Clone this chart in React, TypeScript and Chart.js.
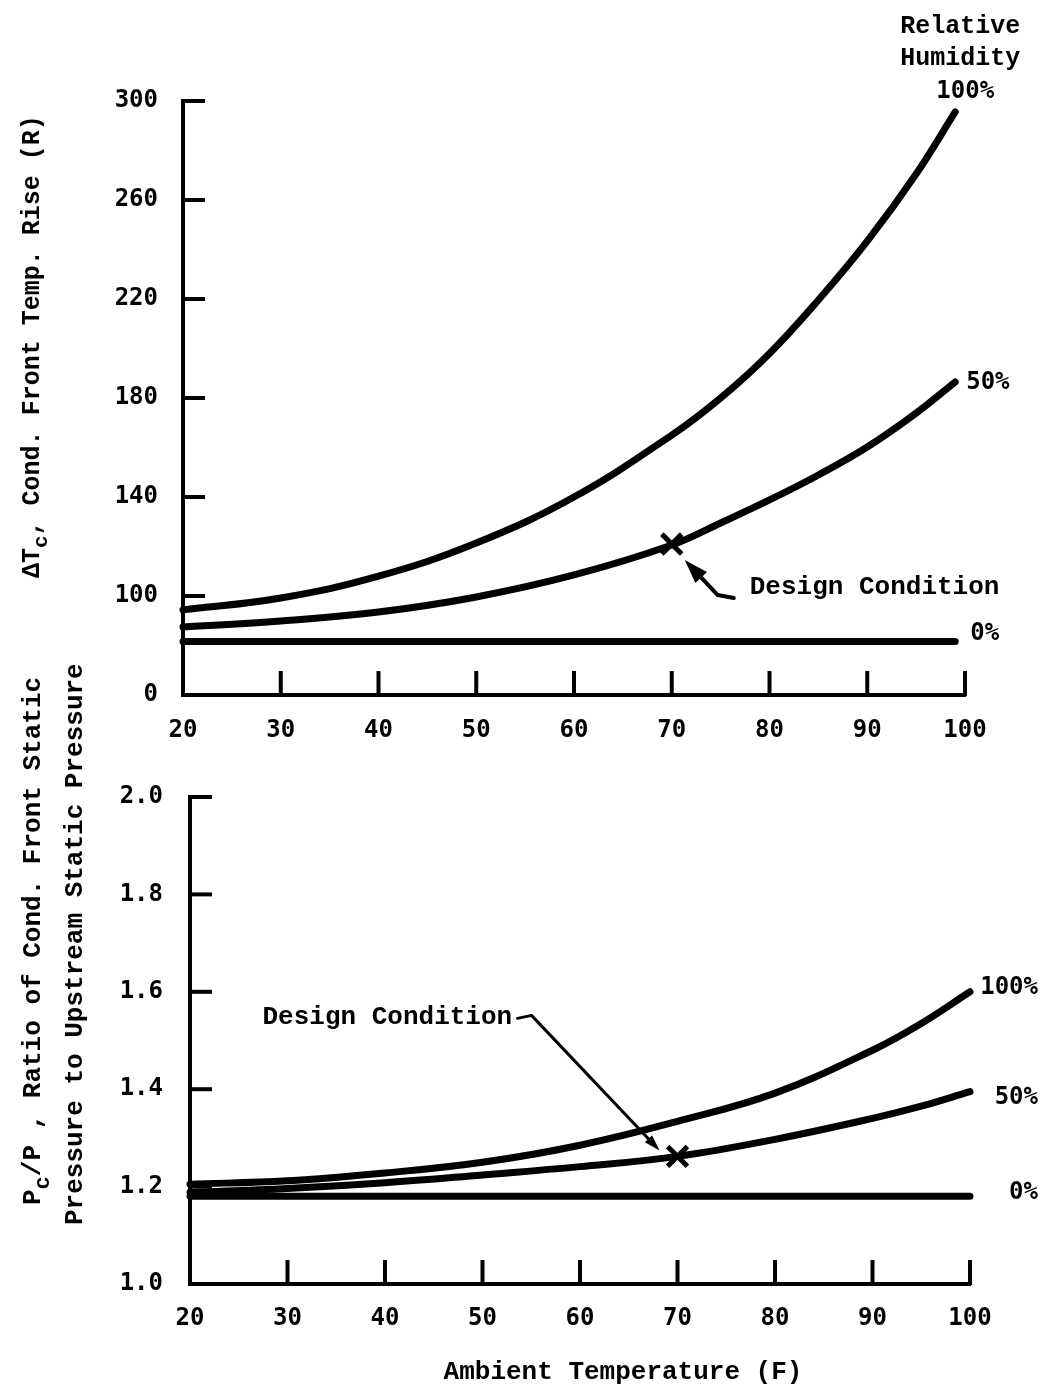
import React, { useEffect, useRef } from 'react';
import { Chart, registerables } from 'chart.js';

Chart.register(...registerables);

// ---------------- data ----------------
const tempTickLabels = ['20', '30', '40', '50', '60', '70', '80', '90', '100'];

// Upper panel: condensation front temperature rise (R)
const tempTop = [20, 30, 40, 50, 60, 70, 75, 80, 85, 90, 95, 99];
const riseRH100 = [86, 98, 108, 121.4, 140, 165, 180, 198, 219.6, 243.4, 270.5, 295.6];
const riseRH50 = [68.7, 74.7, 83.8, 99, 108.5, 120.6, 129.5, 138.8, 148.9, 160.2, 173.9, 186.5];
const riseRH0 = [54, 54, 54, 54, 54, 54, 54, 54, 54, 54, 54, 54];
const riseTickValues = [0, 100, 140, 180, 220, 260, 300];
const riseTickLabels = ['0', '100', '140', '180', '220', '260', '300'];
const riseDesignTemp = 70;
const riseDesignValue = 121;

// Lower panel: pressure ratio Pc/P
const tempBottom = [20, 30, 40, 50, 60, 70, 80, 90, 95, 100];
const ratioRH100 = [1.205, 1.212, 1.228, 1.25, 1.285, 1.334, 1.392, 1.48, 1.535, 1.6];
const ratioRH50 = [1.188, 1.196, 1.208, 1.224, 1.241, 1.262, 1.297, 1.34, 1.365, 1.395];
const ratioRH0 = [1.18, 1.18, 1.18, 1.18, 1.18, 1.18, 1.18, 1.18, 1.18, 1.18];
const ratioTickLabels = ['1.0', '1.2', '1.4', '1.6', '1.8', '2.0'];
const ratioDesignTemp = 70;
const ratioDesignValue = 1.262;

// ---------------- helpers ----------------
const tempTickValues = tempTickLabels.map(Number);

// broken axis: each labelled interval occupies one unit
function riseToAxis(v: number): number {
  for (let i = 0; i < riseTickValues.length - 1; i++) {
    const a = riseTickValues[i];
    const b = riseTickValues[i + 1];
    if (v <= b || i === riseTickValues.length - 2) return i + (v - a) / (b - a);
  }
  return 0;
}

const TICK_FONT = { family: 'DejaVu Sans Mono', size: 24, weight: 'bold' as const };
const MONO = '"Liberation Mono", "DejaVu Sans Mono", monospace';
const PCT_FONT = 'bold 24px "DejaVu Sans Mono", monospace';

function curve(xs: number[], ys: number[], map: (v: number) => number) {
  return {
    type: 'line' as const,
    data: xs.map((x, i) => ({ x, y: map(ys[i]) })),
    borderColor: '#000',
    borderWidth: 7,
    pointRadius: 0,
    tension: 0.4,
    borderCapStyle: 'round' as const,
    fill: false,
    clip: false as const,
  };
}

function designMark(x: number, y: number) {
  return {
    type: 'scatter' as const,
    data: [{ x, y }],
    pointStyle: 'crossRot' as const,
    pointRadius: 14,
    pointBorderWidth: 5,
    pointBorderColor: '#000',
    borderColor: '#000',
    backgroundColor: '#000',
    showLine: false,
  };
}

function line(ctx: CanvasRenderingContext2D, pts: number[][]) {
  ctx.beginPath();
  ctx.moveTo(pts[0][0], pts[0][1]);
  for (let i = 1; i < pts.length; i++) ctx.lineTo(pts[i][0], pts[i][1]);
  ctx.stroke();
}

function arrowHead(ctx: CanvasRenderingContext2D, fx: number, fy: number, tx: number, ty: number, len: number, half: number) {
  const dx = tx - fx;
  const dy = ty - fy;
  const d = Math.hypot(dx, dy);
  const ux = dx / d;
  const uy = dy / d;
  const bx = tx - ux * len;
  const by = ty - uy * len;
  ctx.beginPath();
  ctx.moveTo(tx, ty);
  ctx.lineTo(bx - uy * half, by + ux * half);
  ctx.lineTo(bx + uy * half, by - ux * half);
  ctx.closePath();
  ctx.fill();
}

type Part = { text: string; font: string; dy: number };
function drawVertical(ctx: CanvasRenderingContext2D, x: number, y: number, parts: Part[]) {
  ctx.save();
  ctx.translate(x, y);
  ctx.rotate(-Math.PI / 2);
  ctx.textAlign = 'left';
  ctx.textBaseline = 'middle';
  let cx = 0;
  for (const p of parts) {
    ctx.font = p.font;
    ctx.fillText(p.text, cx, p.dy);
    cx += ctx.measureText(p.text).width;
  }
  ctx.restore();
}

function drawInnerTicks(chart: any, yCount: number) {
  const { ctx, chartArea, scales } = chart;
  const { left, bottom } = chartArea;
  ctx.save();
  ctx.strokeStyle = '#000';
  ctx.lineWidth = 4;
  scales.y.ticks.forEach((t: any, i: number) => {
    if (i === 0 || i >= yCount) return;
    const py = scales.y.getPixelForValue(t.value);
    line(ctx, [[left - 1, py], [left + 22, py]]);
  });
  tempTickValues.slice(1).forEach((t) => {
    const px = scales.x.getPixelForValue(t);
    line(ctx, [[px, bottom + 1], [px, bottom - 24]]);
  });
  ctx.restore();
}

const topDecor = {
  id: 'topDecor',
  afterDraw(chart: any) {
    drawInnerTicks(chart, riseTickValues.length);
    const { ctx, scales } = chart;
    const xs = scales.x;
    const ys = scales.y;
    const last = tempTop.length - 1;
    const ex = xs.getPixelForValue(tempTop[last]);
    ctx.save();
    ctx.fillStyle = '#000';
    ctx.strokeStyle = '#000';
    ctx.textBaseline = 'middle';
    ctx.textAlign = 'center';
    ctx.font = `bold 25px ${MONO}`;
    ctx.fillText('Relative', ex + 5, 27);
    ctx.fillText('Humidity', ex + 5, 59);
    ctx.font = PCT_FONT;
    ctx.fillText('100%', ex + 10, 92);
    ctx.textAlign = 'left';
    ctx.fillText('50%', ex + 11, ys.getPixelForValue(riseToAxis(riseRH50[last])) + 1);
    ctx.fillText('0%', ex + 15, ys.getPixelForValue(riseToAxis(riseRH0[last])) - 8);
    // design condition
    const dx = xs.getPixelForValue(riseDesignTemp);
    const dy = ys.getPixelForValue(riseToAxis(riseDesignValue));
    ctx.font = `bold 26px ${MONO}`;
    ctx.fillText('Design Condition', dx + 78, dy + 43);
    ctx.lineWidth = 4;
    ctx.lineCap = 'round';
    ctx.lineJoin = 'round';
    const p1 = [dx + 62, dy + 54];
    const p2 = [dx + 46, dy + 51];
    const tip = [dx + 13, dy + 16];
    const d = Math.hypot(tip[0] - p2[0], tip[1] - p2[1]);
    const stop = [tip[0] - ((tip[0] - p2[0]) / d) * 20, tip[1] - ((tip[1] - p2[1]) / d) * 20];
    line(ctx, [p1, p2, stop]);
    arrowHead(ctx, p2[0], p2[1], tip[0], tip[1], 24, 8);
    // y title
    const f = `bold 25px ${MONO}`;
    const fs = `bold 21px ${MONO}`;
    drawVertical(ctx, 33, 578, [
      { text: '\u0394T', font: f, dy: 0 },
      { text: 'c', font: fs, dy: 9 },
      { text: ', Cond. Front Temp. Rise (R)', font: f, dy: 0 },
    ]);
    ctx.restore();
  },
};

const BOTTOM_OFFSET = 620;
const BOTTOM_HEIGHT = 1389 - BOTTOM_OFFSET;

const bottomDecor = {
  id: 'bottomDecor',
  afterDraw(chart: any) {
    drawInnerTicks(chart, ratioTickLabels.length);
    const { ctx, scales } = chart;
    const xs = scales.x;
    const ys = scales.y;
    const last = tempBottom.length - 1;
    ctx.save();
    ctx.fillStyle = '#000';
    ctx.strokeStyle = '#000';
    ctx.textBaseline = 'middle';
    ctx.textAlign = 'right';
    ctx.font = PCT_FONT;
    ctx.fillText('100%', 1038, ys.getPixelForValue(ratioRH100[last]) - 4);
    ctx.fillText('50%', 1038, ys.getPixelForValue(ratioRH50[last]) + 6);
    ctx.fillText('0%', 1038, ys.getPixelForValue(ratioRH0[last]) - 4);
    // design condition
    const dx = xs.getPixelForValue(ratioDesignTemp);
    const dy = ys.getPixelForValue(ratioDesignValue);
    ctx.textAlign = 'left';
    ctx.font = `bold 26px ${MONO}`;
    ctx.fillText('Design Condition', dx - 415, dy - 139);
    ctx.lineWidth = 3;
    ctx.lineCap = 'round';
    ctx.lineJoin = 'round';
    const p1 = [dx - 160, dy - 138];
    const p2 = [dx - 146, dy - 141];
    const tip = [dx - 18, dy - 6];
    const d = Math.hypot(tip[0] - p2[0], tip[1] - p2[1]);
    const stop = [tip[0] - ((tip[0] - p2[0]) / d) * 12, tip[1] - ((tip[1] - p2[1]) / d) * 12];
    line(ctx, [p1, p2, stop]);
    arrowHead(ctx, p2[0], p2[1], tip[0], tip[1], 16, 5);
    // x title
    ctx.textAlign = 'center';
    ctx.font = `bold 26px ${MONO}`;
    ctx.fillText('Ambient Temperature (F)', 623, 1372 - BOTTOM_OFFSET);
    // y titles
    const f = `bold 26px ${MONO}`;
    const fs = `bold 22px ${MONO}`;
    drawVertical(ctx, 33, 1205 - BOTTOM_OFFSET, [
      { text: 'P', font: f, dy: 0 },
      { text: 'c', font: fs, dy: 10 },
      { text: '/P , Ratio of Cond. Front Static', font: f, dy: 0 },
    ]);
    drawVertical(ctx, 75, 1225 - BOTTOM_OFFSET, [
      { text: 'Pressure to Upstream Static Pressure', font: f, dy: 0 },
    ]);
    ctx.restore();
  },
};

function axisX(height: number, pad: number) {
  return {
    type: 'linear' as const,
    min: 20,
    max: 100,
    ticks: {
      stepSize: 10,
      color: '#000',
      font: TICK_FONT,
      padding: pad,
      maxRotation: 0,
      autoSkip: false,
      callback: (_v: any, i: number) => tempTickLabels[i],
    },
    grid: { display: true, drawOnChartArea: false, drawTicks: false },
    border: { display: true, width: 4, color: '#000' },
    afterFit: (s: any) => {
      s.height = height;
    },
  };
}

export default function App() {
  const topRef = useRef<HTMLCanvasElement>(null);
  const botRef = useRef<HTMLCanvasElement>(null);

  useEffect(() => {
    const top = new Chart(topRef.current!, {
      type: 'line',
      data: {
        datasets: [
          curve(tempTop, riseRH100, riseToAxis),
          curve(tempTop, riseRH50, riseToAxis),
          curve(tempTop, riseRH0, riseToAxis),
          designMark(riseDesignTemp, riseToAxis(riseDesignValue)),
        ] as any,
      },
      options: {
        responsive: false,
        animation: false,
        events: [],
        layout: { padding: { left: 0, right: 79, top: 101, bottom: 0 } },
        plugins: { legend: { display: false }, tooltip: { enabled: false } },
        scales: {
          x: axisX(65, 21),
          y: {
            type: 'linear',
            min: 0,
            max: riseTickValues.length - 1,
            ticks: {
              stepSize: 1,
              color: '#000',
              font: TICK_FONT,
              padding: 25,
              callback: (_v: any, i: number) => riseTickLabels[i],
            },
            grid: { display: true, drawOnChartArea: false, drawTicks: false },
            border: { display: true, width: 4, color: '#000' },
            afterFit: (s: any) => {
              s.width = 183;
            },
          },
        },
      } as any,
      plugins: [topDecor],
    });

    const bottom = new Chart(botRef.current!, {
      type: 'line',
      data: {
        datasets: [
          curve(tempBottom, ratioRH100, (v) => v),
          curve(tempBottom, ratioRH50, (v) => v),
          curve(tempBottom, ratioRH0, (v) => v),
          designMark(ratioDesignTemp, ratioDesignValue),
        ] as any,
      },
      options: {
        responsive: false,
        animation: false,
        events: [],
        layout: { padding: { left: 0, right: 74, top: 797 - BOTTOM_OFFSET, bottom: 0 } },
        plugins: { legend: { display: false }, tooltip: { enabled: false } },
        scales: {
          x: axisX(1389 - 1284, 20),
          y: {
            type: 'linear',
            min: 1.0,
            max: 2.0,
            ticks: {
              stepSize: 0.2,
              color: '#000',
              font: TICK_FONT,
              padding: 27,
              callback: (_v: any, i: number) => ratioTickLabels[i],
            },
            grid: { display: true, drawOnChartArea: false, drawTicks: false },
            border: { display: true, width: 4, color: '#000' },
            afterFit: (s: any) => {
              s.width = 190;
            },
          },
        },
      } as any,
      plugins: [bottomDecor],
    });

    return () => {
      top.destroy();
      bottom.destroy();
    };
  }, []);

  return (
    <div>
      <canvas
        ref={topRef}
        width={1044}
        height={760}
        style={{ position: 'absolute', left: 0, top: 0, width: 1044, height: 760 }}
      />
      <canvas
        ref={botRef}
        width={1044}
        height={BOTTOM_HEIGHT}
        style={{ position: 'absolute', left: 0, top: BOTTOM_OFFSET, width: 1044, height: BOTTOM_HEIGHT }}
      />
    </div>
  );
}
